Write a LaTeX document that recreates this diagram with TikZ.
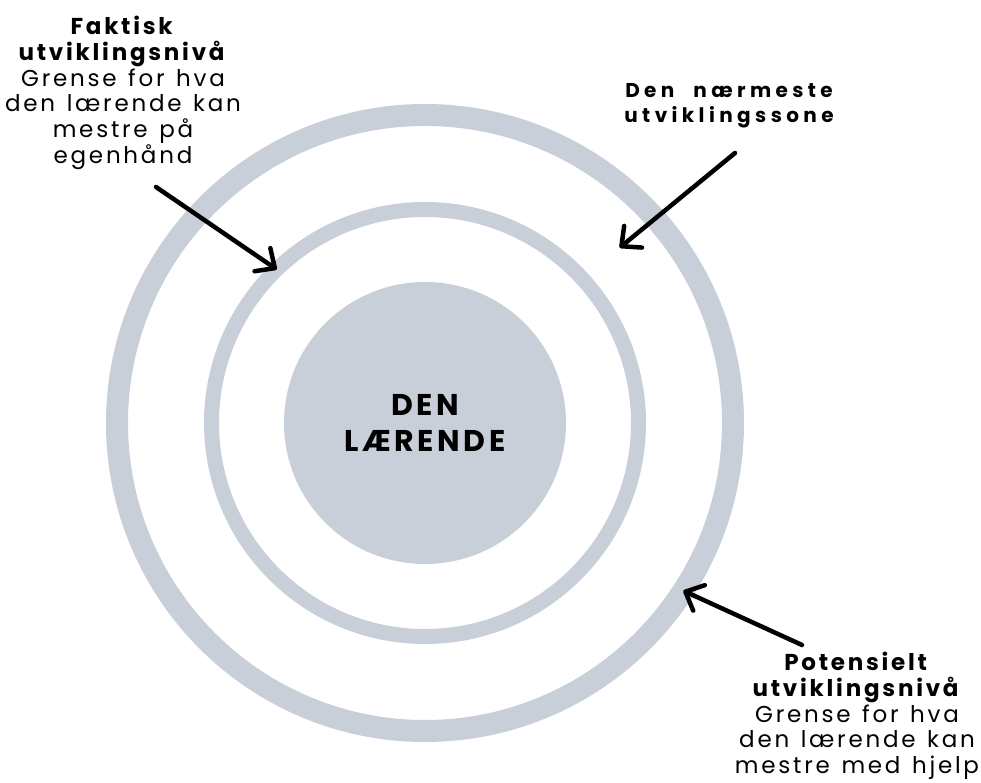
\documentclass[tikz,border=0pt]{standalone}
\usepackage{fontspec}
\setmainfont{Poppins}
\newfontfamily\wideface[LetterSpace=12, WordSpace=1.3]{Poppins}
\newfontfamily\widerface[LetterSpace=22, WordSpace=2.2]{Poppins}
\definecolor{ringgrey}{HTML}{C8CFD8}
\usetikzlibrary{arrows.meta, calc}

\begin{document}
\begin{tikzpicture}[
    x=1pt, y=1pt,
    ring/.style={
        circle,
        draw=ringgrey,
        outer sep=0pt,
        inner sep=0pt,
    },
    disk/.style={
        circle,
        fill=ringgrey,
        inner sep=0pt,
        minimum size=282pt,
        align=center,
        font=\wideface\bfseries\fontsize{30}{36}\selectfont,
    },
    note/.style={
        anchor=north,
        align=center,
        inner sep=0pt,
        font=\wideface\fontsize{23}{25.7}\selectfont,
    },
    pointer/.style={-{Straight Barb[length=15pt, width=28pt, round]}, line width=4.5pt, line cap=round, black},
]

\useasboundingbox (0,0) rectangle (981,783);

\coordinate (ctr) at (425,360);

% the three zones
\node[ring, line width=22pt, minimum size=616pt] (outerring) at (ctr) {};
\node[ring, line width=15pt, minimum size=427pt] (zpdring) at (ctr) {};
\node[disk] (learner) at (ctr) {DEN\\LÆRENDE};

% labels
\node[note] (actual) at (123,767)
    {\textbf{Faktisk}\\\textbf{utviklingsnivå}\\Grense for hva\\den lærende kan\\mestre på\\egenhånd};
\node[note, font=\widerface\bfseries\fontsize{20}{25}\selectfont] (zone) at (729,700)
    {Den nærmeste\\utviklingssone};
\node[note] (potential) at (857,131)
    {\textbf{Potensielt}\\\textbf{utviklingsnivå}\\Grense for hva\\den lærende kan\\mestre med hjelp};

% arrows
\coordinate (actualfrom) at (156,596);
\coordinate (zonefrom) at (735,630);
\coordinate (zonetip) at ($(ctr)+(42:262)$);
\coordinate (potentialfrom) at (802,138);

\draw[pointer] (actualfrom) -- (zpdring.134);
\draw[pointer] (zonefrom) -- (zonetip);
\draw[pointer] (potentialfrom) -- (outerring.-33.5);

\end{tikzpicture}
\end{document}
